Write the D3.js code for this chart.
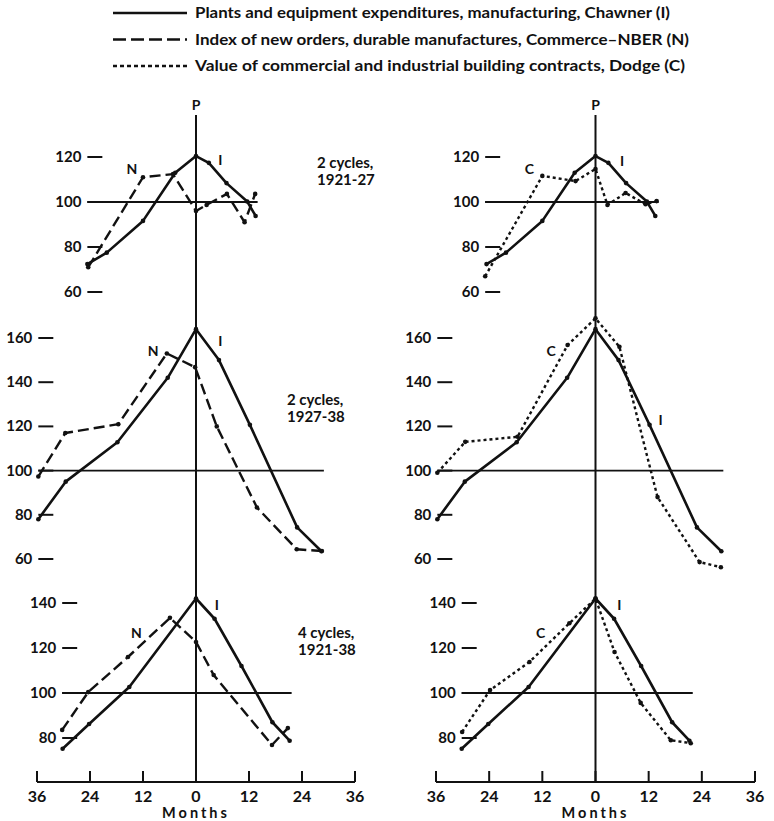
<!DOCTYPE html>
<html>
<head>
<meta charset="utf-8">
<script src="https://cdn.jsdelivr.net/npm/d3@7"></script>
<style>
  body { margin: 0; background: #fff; }
  svg text { font-family: Lato, "DejaVu Sans", sans-serif; font-weight: 700; fill: #111; }
</style>
</head>
<body>
<svg id="chart" width="774" height="821"></svg>
<script>
// Months from reference peak (P), index values (cycle average = 100)
const xTicks = [-36, -24, -12, 0, 12, 24, 36];

// Row 1: 2 cycles, 1921-27
const iRow1 = [[-24.6, 72.4], [-20.2, 77.5], [-12, 91.6], [-4.7, 113], [0, 120.4], [2.9, 117.4], [6.9, 108.4], [11.6, 100.2], [13.5, 93.8]];
const nRow1 = [[-24.4, 71], [-12, 111], [-5.2, 112.4], [0, 96], [2.4, 98.7], [7, 103.6], [11, 91], [13.4, 103.6]];
const cRow1 = [[-24.9, 67], [-12, 111.6], [-4.5, 109.3], [0, 114.7], [2.7, 98.7], [6.8, 104], [11.3, 99], [13.8, 100.4]];

// Row 2: 2 cycles, 1927-38
const iRow2 = [[-35.7, 78], [-29.5, 95], [-17.8, 112.8], [-6.4, 142], [0, 164], [5.2, 150], [12.2, 120.7], [22.9, 74.3], [28.4, 63.5]];
const nRow2 = [[-35.7, 97.3], [-29.6, 117], [-17.6, 121], [-6.6, 153], [-0.2, 146.8], [4.7, 120], [13.8, 83.3], [22.8, 64.4], [28.5, 63.6]];
const cRow2 = [[-35.7, 99], [-29.4, 113], [-17.6, 115.3], [-6.3, 156.8], [0, 168.9], [5.4, 156], [14, 88], [23.5, 58.6], [28.3, 56.3]];

// Row 3: 4 cycles, 1921-38
const iRow3 = [[-30.2, 75.2], [-24.2, 86.2], [-15.1, 102.7], [0, 142], [4.2, 133], [10.3, 112], [17.3, 87], [21.2, 78.8]];
const nRow3 = [[-30.3, 83.6], [-24.4, 100.4], [-15.4, 116], [-5.9, 133.4], [0, 122.7], [4, 108], [17.2, 76.9], [20.8, 84.4]];
const cRow3 = [[-30.1, 82.7], [-23.8, 101.3], [-14.9, 113.8], [-5.9, 131], [0, 142], [4.3, 118.2], [10.2, 95.6], [17, 79], [21.5, 77.7]];

const yTicksRow1 = [60, 80, 100, 120];
const yTicksRow2 = [60, 80, 100, 120, 140, 160];
const yTicksRow3 = [80, 100, 120, 140];

const rowLabels = [["2 cycles,", "1921-27"], ["2 cycles,", "1927-38"], ["4 cycles,", "1921-38"]];

const legendItems = [
    { key: "I", text: "Plants and equipment expenditures, manufacturing, Chawner (I)" },
    { key: "N", text: "Index of new orders, durable manufactures, Commerce\u2013NBER (N)" },
    { key: "C", text: "Value of commercial and industrial building contracts, Dodge (C)" }
];

// Series letter placement, [month, value] per row / panel
const seriesLabelsLeft = [
    { N: [-14.5, 112.5], I: [5.5, 116.5] },
    { N: [-9.7, 152], I: [5.5, 156.5] },
    { N: [-13.5, 124.5], I: [4.7, 137] }
];
const seriesLabelsRight = [
    { C: [-14.9, 112.5], I: [6, 116] },
    { C: [-10, 152], I: [14.7, 120.6] },
    { C: [-12.4, 124.5], I: [5.4, 137] }
];

const lineStyles = {
    I: { dash: null, width: 2.6 },
    N: { dash: "11,5", width: 2.4 },
    C: { dash: "3,3", width: 2.4 }
};

const svg = d3.select("#chart");

// Legend
const legendWidths = [475, 494, 490];
const legend = svg.append("g");
legendItems.forEach((d, i) => {
    const y = 13 + i * 26.5;
    legend.append("line")
        .attr("x1", 113).attr("x2", 187)
        .attr("y1", y).attr("y2", y)
        .attr("stroke", "#111")
        .attr("stroke-width", 2.4)
        .attr("stroke-dasharray", d.key === "N" ? "13,5" : d.key === "C" ? "4,3" : null);
    legend.append("text")
        .attr("x", 195).attr("y", y + 5)
        .attr("textLength", legendWidths[i])
        .attr("lengthAdjust", "spacingAndGlyphs")
        .style("font-size", "15px")
        .text(d.text);
});

const panels = [
    { x0: 37, x1: 355, other: "N" },
    { x0: 436, x1: 755, other: "C" }
];

const rowDefs = [
    { yDomain: [60, 120], yRange: [292, 157], ticks: yTicksRow1, label: [317, 163] },
    { yDomain: [60, 160], yRange: [559, 338], ticks: yTicksRow2, label: [287, 400] },
    { yDomain: [80, 140], yRange: [738, 603], ticks: yTicksRow3, label: [298, 633] }
];

const seriesByPanel = [
    [[iRow1, nRow1], [iRow2, nRow2], [iRow3, nRow3]],
    [[iRow1, cRow1], [iRow2, cRow2], [iRow3, cRow3]]
];

const axisY = 782;

panels.forEach((p, pi) => {
    const x = d3.scaleLinear().domain([-36, 36]).range([p.x0, p.x1]);
    const g = svg.append("g");

    // Peak line
    g.append("line")
        .attr("x1", x(0)).attr("x2", x(0))
        .attr("y1", 115).attr("y2", axisY)
        .attr("stroke", "#111").attr("stroke-width", 2);
    g.append("text")
        .attr("x", x(0)).attr("y", 110)
        .attr("text-anchor", "middle")
        .style("font-size", "14px")
        .text("P");

    rowDefs.forEach((r, ri) => {
        const y = d3.scaleLinear().domain(r.yDomain).range(r.yRange);
        const [iData, oData] = seriesByPanel[pi][ri];
        const allMonths = iData.concat(oData).map(d => d[0]);
        const mMin = d3.min(allMonths), mMax = d3.max(allMonths);

        // Base line at 100
        g.append("line")
            .attr("x1", x(mMin)).attr("x2", x(mMax) + 2)
            .attr("y1", y(100)).attr("y2", y(100))
            .attr("stroke", "#111").attr("stroke-width", 1.8);

        // Y ticks as "label —"
        r.ticks.forEach(t => {
            g.append("line")
                .attr("x1", x(mMin)).attr("x2", x(mMin) + 15)
                .attr("y1", y(t)).attr("y2", y(t))
                .attr("stroke", "#111").attr("stroke-width", 2);
            g.append("text")
                .attr("x", x(mMin) - 6).attr("y", y(t) + 5)
                .attr("text-anchor", "end")
                .style("font-size", "15px")
                .text(t);
        });

        const line = d3.line().x(d => x(d[0])).y(d => y(d[1]));
        [["I", iData], [p.other, oData]].forEach(([key, data]) => {
            const st = lineStyles[key];
            g.append("path")
                .datum(data)
                .attr("fill", "none")
                .attr("stroke", "#111")
                .attr("stroke-width", st.width)
                .attr("stroke-linejoin", "round")
                .attr("stroke-dasharray", st.dash)
                .attr("d", line);
            g.selectAll(null)
                .data(data)
                .enter().append("circle")
                .attr("cx", d => x(d[0]))
                .attr("cy", d => y(d[1]))
                .attr("r", 2.3)
                .attr("fill", "#111");
        });

        // Series letters
        const labels = pi === 0 ? seriesLabelsLeft[ri] : seriesLabelsRight[ri];
        Object.keys(labels).forEach(k => {
            g.append("text")
                .attr("x", x(labels[k][0])).attr("y", y(labels[k][1]))
                .attr("text-anchor", "middle")
                .style("font-size", "14px")
                .text(k);
        });

        // Row caption (left panel only), one text per line
        if (pi === 0) {
            rowLabels[ri].forEach((s, k) => {
                g.append("text")
                    .attr("x", r.label[0])
                    .attr("y", r.label[1] + 5 + k * 17)
                    .style("font-size", "15px")
                    .text(s);
            });
        }
    });

    // Months axis
    g.append("line")
        .attr("x1", x(-36)).attr("x2", x(36))
        .attr("y1", axisY).attr("y2", axisY)
        .attr("stroke", "#111").attr("stroke-width", 2);
    xTicks.forEach(t => {
        g.append("line")
            .attr("x1", x(t)).attr("x2", x(t))
            .attr("y1", axisY).attr("y2", axisY - 11)
            .attr("stroke", "#111").attr("stroke-width", 2);
        g.append("text")
            .attr("x", x(t)).attr("y", axisY + 20)
            .attr("text-anchor", "middle")
            .style("font-size", "16px")
            .text(Math.abs(t));
    });
    g.append("text")
        .attr("x", x(0)).attr("y", 818)
        .attr("text-anchor", "middle")
        .style("font-size", "14.5px")
        .style("letter-spacing", "3px")
        .text("Months");
});
</script>
</body>
</html>
